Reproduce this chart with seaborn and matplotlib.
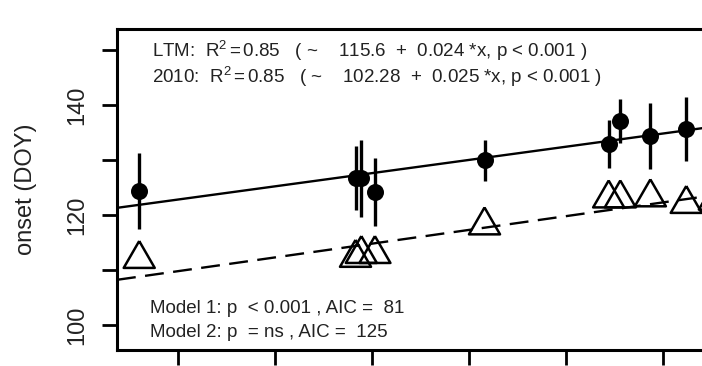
import numpy as np
import pandas as pd
import seaborn as sns
import matplotlib.pyplot as plt

# values (x units inferred from the tick spacing)
ltm_x = [260, 483, 489, 503, 616, 744, 756, 787, 824, 853]
ltm_onset = [124.4, 126.7, 126.7, 124.2, 129.9, 132.9, 137.0, 134.4, 135.6, 136.5]
ltm_sd = [6.9, 5.8, 7.0, 6.2, 3.8, 4.4, 4.0, 6.0, 5.8, 5.5]
y2010_onset = [112.0, 112.2, 112.9, 112.9, 118.1, 123.0, 123.0, 123.2, 122.0, 122.6]

ltm_fit = (115.6, 0.024)
y2010_fit = (102.28, 0.025)

top_lines = ["LTM:  R$^2$$\\,$=$\\,$0.85   ( ~    115.6  +  0.024 *x, p < 0.001 )",
             "2010:  R$^2$$\\,$=$\\,$0.85   ( ~    102.28  +  0.025 *x, p < 0.001 )"]
bottom_lines = ["Model 1: p  < 0.001 , AIC =  81",
                "Model 2: p  = ns , AIC =  125"]

df = pd.DataFrame({"x": ltm_x, "ltm": ltm_onset, "sd": ltm_sd, "y2010": y2010_onset})

sns.set_theme(style="ticks")
plt.rcParams['font.family'] = ['Liberation Sans', 'DejaVu Sans']
plt.rcParams['mathtext.fontset'] = 'custom'
plt.rcParams['mathtext.rm'] = 'Liberation Sans'
plt.rcParams['mathtext.it'] = 'Liberation Sans:italic'

fig = plt.figure(figsize=(7.02, 3.66), dpi=100)
ax = fig.add_axes([117 / 702, 16 / 366, 613 / 702, 321 / 366])

# regression lines
ax.axline((0, ltm_fit[0]), slope=ltm_fit[1], color="black", lw=1.7, zorder=2)
ax.axline((0, y2010_fit[0]), slope=y2010_fit[1], color="black", lw=1.7,
          linestyle=(0, (8, 4)), zorder=2)

# error bars for LTM
ax.vlines(df["x"], df["ltm"] - df["sd"], df["ltm"] + df["sd"],
          color="black", lw=2.4, zorder=3)

sns.scatterplot(data=df, x="x", y="ltm", ax=ax, color="black", s=150,
                linewidth=0, zorder=4)
tri = [(0, 1), (-0.866, -0.5), (0.866, -0.5), (0, 1)]
sns.scatterplot(data=df, x="x", y="y2010", ax=ax, marker=tri, s=666,
                facecolor="none", edgecolor="black", linewidth=1.8, zorder=4)

ax.set_xlim(237.1, 869.1)
ax.set_ylim(95.45, 153.8)
ax.set_xticks([300, 400, 500, 600, 700, 800])
ax.set_yticks([100, 110, 120, 130, 140, 150])
ax.set_yticklabels(["100", "", "120", "", "140", ""], rotation=90, va="center")
ax.tick_params(axis="both", length=11, width=2.0, color="black",
               labelsize=17, labelcolor="#222222")
ax.tick_params(axis="y", pad=10)
ax.tick_params(axis="x", labelbottom=False)
for sp in ax.spines.values():
    sp.set_linewidth(2.2)
    sp.set_color("black")

ax.set_xlabel("")
ax.set_ylabel("onset (DOY)", fontsize=17, color="#222222")
ax.yaxis.set_label_coords((37 - 117) / 613, 0.5)

for txt, yb in zip(top_lines, [148.67, 143.95]):
    ax.text(273, yb, txt, fontsize=13.5, va="baseline", ha="left", color="#222222")
for txt, yb in zip(bottom_lines, [102.18, 97.87]):
    ax.text(271, yb, txt, fontsize=13.5, va="baseline", ha="left", color="#222222")

fig.savefig("out.png", dpi=100)
